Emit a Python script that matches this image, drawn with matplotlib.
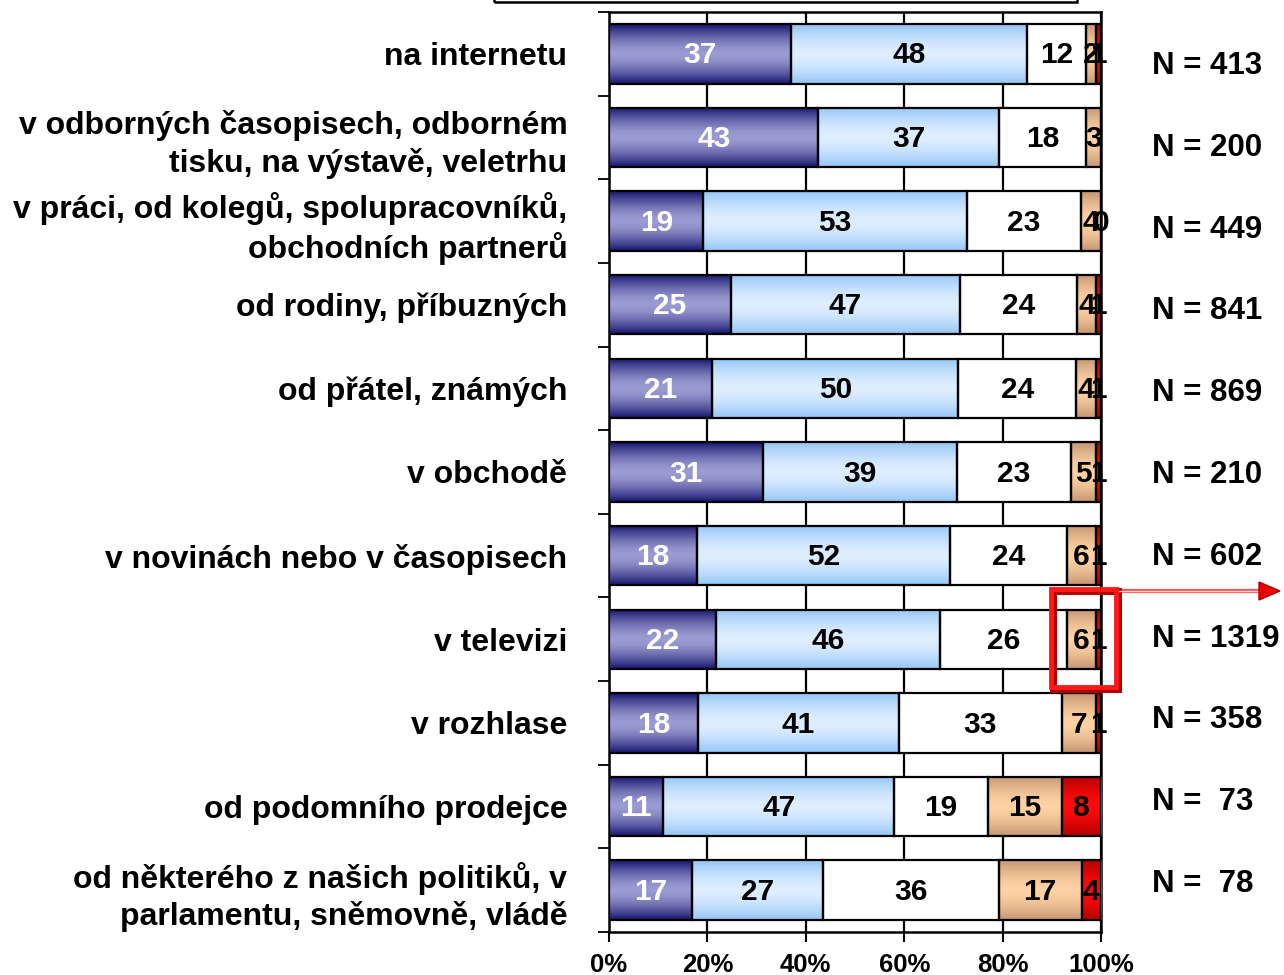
import numpy as np
import matplotlib
matplotlib.use("Agg")
import matplotlib.pyplot as plt
from matplotlib.patches import Rectangle, Polygon
from matplotlib.lines import Line2D

plt.rcParams['font.family'] = ['Liberation Sans', 'DejaVu Sans']
plt.rcParams['font.weight'] = 'bold'

categories = [
    "na internetu",
    "v odborných časopisech, odborném\ntisku, na výstavě, veletrhu",
    "v práci, od kolegů, spolupracovníků,\nobchodních partnerů",
    "od rodiny, příbuzných",
    "od přátel, známých",
    "v obchodě",
    "v novinách nebo v časopisech",
    "v televizi",
    "v rozhlase",
    "od podomního prodejce",
    "od některého z našich politiků, v\nparlamentu, sněmovně, vládě",
]
s1 = [37, 43, 19, 25, 21, 31, 18, 22, 18, 11, 17]
s2 = [48, 37, 53, 47, 50, 39, 52, 46, 41, 47, 27]
s3 = [12, 18, 23, 24, 24, 23, 24, 26, 33, 19, 36]
s4 = [2, 3, 4, 4, 4, 5, 6, 6, 7, 15, 17]
s5 = [1, None, 0, 1, 1, 1, 1, 1, 1, 8, 4]
n_values = [413, 200, 449, 841, 869, 210, 602, 1319, 358, 73, 78]
x_ticks = [0, 20, 40, 60, 80, 100]
x_tick_labels = ["0%", "20%", "40%", "60%", "80%", "100%"]

series = [s1, s2, s3, s4, s5]
# gradient (edge colour, middle colour)
grads = [
    ("#16166e", "#9c9cd4"),
    ("#94c6f8", "#deeeff"),
    ("#ffffff", "#ffffff"),
    ("#c49672", "#ffd2a4"),
    ("#b00000", "#ff0a0a"),
]
label_colors = ["white", "black", "black", "black", "black"]

W, H = 1284, 975
fig = plt.figure(figsize=(W / 100, H / 100), dpi=100)
ax = fig.add_axes([609 / W, 1 - 932 / H, (1101 - 609) / W, (932 - 12) / H])

vals = np.array([[0 if v is None else v for v in s] for s in series], dtype=float)
totals = vals.sum(axis=0)
pct = vals / totals * 100
lefts = np.vstack([np.zeros(len(categories)), np.cumsum(pct, axis=0)[:-1]])
y = np.arange(len(categories))
bh = 0.71

def hex2rgb(h):
    h = h.lstrip('#')
    return np.array([int(h[i:i + 2], 16) / 255 for i in (0, 2, 4)])

for k in range(len(series)):
    e, m = hex2rgb(grads[k][0]), hex2rgb(grads[k][1])
    t = np.linspace(-1, 1, 64)
    w = np.abs(t) ** 1.6
    col = (1 - w)[:, None] * m + w[:, None] * e
    img = col[:, None, :]
    bars = ax.barh(y, pct[k], left=lefts[k], height=bh, facecolor='none',
                   edgecolor='black', linewidth=1.6, zorder=4)
    for i, p in enumerate(bars):
        if pct[k][i] <= 0:
            continue
        x0, y0 = p.get_x(), p.get_y()
        im = ax.imshow(img, extent=(x0, x0 + p.get_width(), y0 + p.get_height(), y0),
                       aspect='auto', interpolation='bilinear', zorder=3)
        im.set_clip_path(p)
    for i in range(len(categories)):
        v = series[k][i]
        if v is None:
            continue
        ax.text(lefts[k][i] + pct[k][i] / 2, y[i] + 0.02, f"{v}", ha='center', va='center',
                fontsize=21.5, fontweight='bold', color=label_colors[k], zorder=6)

ax.set_xlim(0, 100)
ax.set_ylim(len(categories) - 0.5, -0.5)
ax.set_xticks(x_ticks)
ax.set_xticklabels(x_tick_labels, fontsize=18.5, fontweight='bold')
ax.set_yticks(y)
ax.set_yticklabels(categories, fontsize=23, fontweight='bold', linespacing=1.28,
                   ha='right')
ax.set_yticks(np.arange(-0.5, len(categories), 1), minor=True)
ax.tick_params(axis='y', which='major', length=0, pad=30)
ax.tick_params(axis='y', which='minor', length=8, width=1.3, direction='out')
ax.tick_params(axis='x', length=7, width=1.5, direction='out', pad=8)
ax.grid(axis='x', color='black', linewidth=1.6, zorder=1)
ax.set_axisbelow(True)
for sp in ax.spines.values():
    sp.set_linewidth(1.8)
    sp.set_color('black')

# N labels
n_y = np.linspace(66, 884, len(n_values))
for nv, yy in zip(n_values, n_y):
    txt = f"N = {nv}" if nv >= 100 else f"N =  {nv}"
    fig.text(1152 / W, 1 - yy / H, txt, ha='left', va='center', fontsize=22.5,
             fontweight='bold')

# legend box remnant at top
fig.patches.append(Rectangle((494 / W, 1 - 2 / H), (1077 - 494) / W, 0.05,
                             transform=fig.transFigure, fill=False, edgecolor='black',
                             linewidth=1.8, clip_on=False))

# red highlight box and arrow
fig.patches.append(Rectangle((1053 / W, 1 - 689 / H), (1118 - 1053) / W, (689 - 591) / H,
                             transform=fig.transFigure, fill=False, edgecolor='#b00000',
                             linewidth=5, zorder=10))
fig.patches.append(Rectangle((1051 / W, 1 - 687 / H), (1116 - 1051) / W, (687 - 589) / H,
                             transform=fig.transFigure, fill=False, edgecolor='#ff1a1a',
                             linewidth=3.5, zorder=11))
fig.lines.append(Line2D([1118 / W, 1262 / W], [1 - 591 / H, 1 - 591 / H],
                        transform=fig.transFigure, color='#ff5050', linewidth=3, zorder=10))
fig.lines.append(Line2D([1118 / W, 1262 / W], [1 - 591 / H, 1 - 591 / H],
                        transform=fig.transFigure, color='#ffd0d0', linewidth=1, zorder=11))
fig.patches.append(Polygon([[1259 / W, 1 - 582 / H], [1280 / W, 1 - 591 / H],
                            [1259 / W, 1 - 600 / H]], closed=True,
                           transform=fig.transFigure, facecolor='#ee0000',
                           edgecolor='#b00000', linewidth=1, zorder=12))

fig.savefig("out.png", dpi=100)
